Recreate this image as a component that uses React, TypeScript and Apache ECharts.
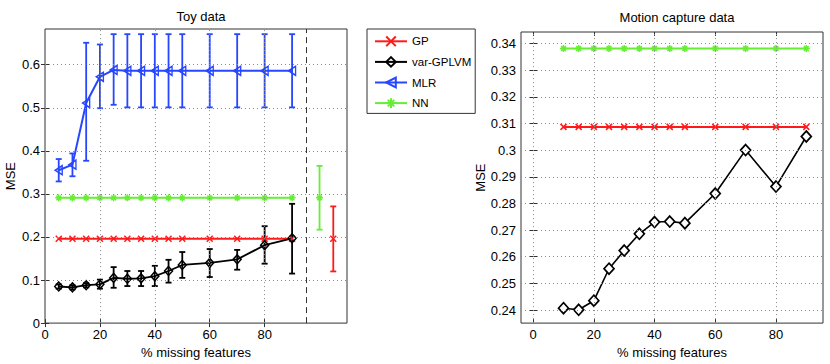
import React, { useEffect, useRef } from "react";
import * as echarts from "echarts";

// ---------- Toy data ----------
const toyX = [5, 10, 15, 20, 25, 30, 35, 40, 45, 50, 60, 70, 80, 90];
const toyGP = [0.196, 0.196, 0.196, 0.196, 0.196, 0.196, 0.196, 0.196, 0.196, 0.196, 0.196, 0.196, 0.196, 0.196];
const toyNN = [0.291, 0.291, 0.291, 0.291, 0.291, 0.291, 0.291, 0.291, 0.291, 0.291, 0.291, 0.291, 0.291, 0.291];
const toyMLR = [0.355, 0.368, 0.511, 0.572, 0.588, 0.586, 0.586, 0.586, 0.586, 0.586, 0.586, 0.586, 0.586, 0.586];
const toyMLRLow = [0.329, 0.341, 0.377, 0.499, 0.507, 0.501, 0.501, 0.501, 0.501, 0.501, 0.501, 0.501, 0.501, 0.501];
const toyMLRHigh = [0.381, 0.394, 0.651, 0.647, 0.671, 0.671, 0.671, 0.671, 0.671, 0.671, 0.671, 0.671, 0.671, 0.671];
const toyVar = [0.085, 0.083, 0.088, 0.09, 0.105, 0.103, 0.104, 0.109, 0.121, 0.135, 0.14, 0.148, 0.181, 0.197];
const toyVarLow = [0.08, 0.078, 0.083, 0.08, 0.082, 0.086, 0.086, 0.086, 0.094, 0.105, 0.107, 0.124, 0.138, 0.115];
const toyVarHigh = [0.09, 0.088, 0.093, 0.101, 0.13, 0.121, 0.121, 0.133, 0.147, 0.165, 0.172, 0.17, 0.225, 0.277];
// stand-alone reference points (right of dashed line)
const toyNNRef = { x: 100, y: 0.291, low: 0.217, high: 0.365 };
const toyGPRef = { x: 105, y: 0.196, low: 0.12, high: 0.271 };
const toyDivider = 95;
const toyXTicks = [0, 20, 40, 60, 80];
const toyYTicks = [0, 0.1, 0.2, 0.3, 0.4, 0.5, 0.6];

// ---------- Motion capture data ----------
const mocapX = [10, 15, 20, 25, 30, 35, 40, 45, 50, 60, 70, 80, 90];
const mocapGP = [0.3087, 0.3087, 0.3087, 0.3087, 0.3087, 0.3087, 0.3087, 0.3087, 0.3087, 0.3087, 0.3087, 0.3087, 0.3087];
const mocapNN = [0.3381, 0.3381, 0.3381, 0.3381, 0.3381, 0.3381, 0.3381, 0.3381, 0.3381, 0.3381, 0.3381, 0.3381, 0.3381];
const mocapVar = [0.2407, 0.2401, 0.2435, 0.2555, 0.2623, 0.2686, 0.273, 0.2732, 0.2726, 0.2837, 0.3, 0.2863, 0.3051];
const mocapXTicks = [0, 20, 40, 60, 80];
const mocapYTicks = [0.24, 0.25, 0.26, 0.27, 0.28, 0.29, 0.3, 0.31, 0.32, 0.33, 0.34];

const legendNames = ["GP", "var-GPLVM", "MLR", "NN"];

const FONT = "'Liberation Sans', Arial, Helvetica, sans-serif";
const RED = "#ff1a1a";
const BLUE = "#2646ff";
const GREEN = "#66ee33";
const BLACK = "#000000";

const CROSS = "path://M0,0L10,10M10,0L0,10";
const STAR = "path://M5,0L5,10M0,5L10,5M1.6,1.6L8.4,8.4M8.4,1.6L1.6,8.4";
const TRI_LEFT = "path://M0,5L9,0L9,10Z";

const fmt = (v: number) => String(parseFloat(Number(v).toFixed(3)));

function lineSeries(name: string, gi: number, xs: number[], ys: number[], color: string, symbol: string, size: any, lw: number, fill = "none", bw = 1.5) {
  return {
    type: "line",
    name,
    xAxisIndex: gi * 2,
    yAxisIndex: gi * 2,
    data: xs.map((x, i) => [x, ys[i]]),
    symbol,
    symbolSize: size,
    showSymbol: true,
    showAllSymbol: true,
    lineStyle: { color, width: lw },
    itemStyle: { color: fill, borderColor: color, borderWidth: bw },
    emphasis: { disabled: true },
    silent: true,
    z: 4,
  };
}

function errorBars(name: string, gi: number, xs: number[], lows: number[], highs: number[], color: string, width: number) {
  return {
    type: "custom",
    name,
    xAxisIndex: gi * 2,
    yAxisIndex: gi * 2,
    silent: true,
    encode: { x: 0, y: [1, 2] },
    data: xs.map((x, i) => [x, lows[i], highs[i]]),
    renderItem: (_p: any, api: any) => {
      const x = api.value(0);
      const p1 = api.coord([x, api.value(1)]);
      const p2 = api.coord([x, api.value(2)]);
      const cap = 3;
      const style = { stroke: color, lineWidth: width, fill: "none" };
      return {
        type: "group",
        children: [
          { type: "line", shape: { x1: p1[0], y1: p1[1], x2: p2[0], y2: p2[1] }, style },
          { type: "line", shape: { x1: p1[0] - cap, y1: p1[1], x2: p1[0] + cap, y2: p1[1] }, style },
          { type: "line", shape: { x1: p2[0] - cap, y1: p2[1], x2: p2[0] + cap, y2: p2[1] }, style },
        ],
      };
    },
    z: 3,
  };
}

function gridLines(gi: number, xs: number[], ys: number[], extra: any[] = []) {
  return {
    type: "line",
    name: "grid" + gi,
    xAxisIndex: gi * 2,
    yAxisIndex: gi * 2,
    data: [],
    silent: true,
    z: 1,
    markLine: {
      silent: true,
      animation: false,
      symbol: ["none", "none"],
      label: { show: false },
      lineStyle: { color: "#8a8a8a", type: [1, 3], width: 1 },
      data: [...xs.map((v) => ({ xAxis: v })), ...ys.map((v) => ({ yAxis: v })), ...extra],
    },
  };
}

const tickStyle = { inside: true, length: 4, lineStyle: { color: "#333", width: 1 } };
const labelStyle = { color: "#000", fontSize: 13, fontFamily: FONT, margin: 5 };
const nameStyle = { color: "#000", fontSize: 13, fontFamily: FONT };

function axesFor(gi: number, xmin: number, xmax: number, xt: number[], ymin: number, ymax: number, yt: number[], yNameGap: number) {
  const xBottom = {
    type: "value", gridIndex: gi, min: xmin, max: xmax, position: "bottom",
    axisLine: { show: false }, splitLine: { show: false },
    axisTick: { ...tickStyle, customValues: xt },
    axisLabel: { ...labelStyle, customValues: xt, formatter: fmt },
    name: "% missing features", nameLocation: "middle", nameGap: 19, nameTextStyle: nameStyle,
  };
  const xTop = {
    type: "value", gridIndex: gi, min: xmin, max: xmax, position: "top",
    axisLine: { show: false }, splitLine: { show: false },
    axisTick: { ...tickStyle, customValues: xt },
    axisLabel: { show: false },
  };
  const yLeft = {
    type: "value", gridIndex: gi, min: ymin, max: ymax, position: "left",
    axisLine: { show: false }, splitLine: { show: false },
    axisTick: { ...tickStyle, customValues: yt },
    axisLabel: { ...labelStyle, customValues: yt, formatter: fmt },
    name: "MSE", nameLocation: "middle", nameGap: yNameGap, nameRotate: 90, nameTextStyle: nameStyle,
  };
  const yRight = {
    type: "value", gridIndex: gi, min: ymin, max: ymax, position: "right",
    axisLine: { show: false }, splitLine: { show: false },
    axisTick: { ...tickStyle, customValues: yt },
    axisLabel: { show: false },
  };
  return { x: [xBottom, xTop], y: [yLeft, yRight] };
}

export default function App() {
  const ref = useRef<HTMLDivElement>(null);
  useEffect(() => {
    document.body.style.margin = "0";
    if (!ref.current) return;
    const chart = echarts.init(ref.current, undefined, { renderer: "svg" });
    const a0 = axesFor(0, 0, 110, toyXTicks, 0, 0.683, toyYTicks, 28);
    const a1 = axesFor(1, -4, 95.5, mocapXTicks, 0.2351, 0.3443, mocapYTicks, 33);
    const option: any = {
      animation: false,
      textStyle: { fontFamily: FONT },
      title: [
        { text: "Toy data", left: 196, top: 5, textAlign: "center", textStyle: { fontSize: 13, fontWeight: "normal", color: "#000", fontFamily: FONT } },
        { text: "Motion capture data", left: 672, top: 6, textAlign: "center", textStyle: { fontSize: 13, fontWeight: "normal", color: "#000", fontFamily: FONT } },
      ],
      legend: {
        data: legendNames,
        orient: "vertical",
        left: 367,
        top: 29,
        padding: [5, 4, 3, 7],
        itemWidth: 32,
        itemHeight: 12,
        itemGap: 6,
        borderColor: "#333",
        borderWidth: 1,
        backgroundColor: "#fff",
        selectedMode: false,
        textStyle: { fontSize: 11.5, color: "#000", fontFamily: FONT },
      },
      grid: [
        { left: 45, top: 29, width: 302, height: 297.5, show: true, borderColor: "#333", borderWidth: 1, backgroundColor: "transparent" },
        { left: 521, top: 32, width: 302, height: 294.5, show: true, borderColor: "#333", borderWidth: 1, backgroundColor: "transparent" },
      ],
      xAxis: [...a0.x, ...a1.x],
      yAxis: [...a0.y, ...a1.y],
      series: [
        gridLines(0, toyXTicks.filter((v) => v > 0), toyYTicks.filter((v) => v > 0), [
          { xAxis: toyDivider, lineStyle: { color: "#333", type: [6, 4], width: 1 } },
        ]),
        gridLines(1, mocapXTicks, mocapYTicks),
        errorBars("MLR err", 0, toyX, toyMLRLow, toyMLRHigh, BLUE, 1.8),
        errorBars("var err", 0, toyX, toyVarLow, toyVarHigh, BLACK, 1.8),
        errorBars("NN ref err", 0, [toyNNRef.x], [toyNNRef.low], [toyNNRef.high], GREEN, 1.8),
        errorBars("GP ref err", 0, [toyGPRef.x], [toyGPRef.low], [toyGPRef.high], RED, 1.8),
        lineSeries("GP", 0, toyX, toyGP, RED, CROSS, 6, 2),
        lineSeries("var-GPLVM", 0, toyX, toyVar, BLACK, "diamond", [8, 9], 1.8),
        lineSeries("MLR", 0, toyX, toyMLR, BLUE, TRI_LEFT, [7, 9], 2),
        lineSeries("NN", 0, toyX, toyNN, GREEN, STAR, 7, 2),
        lineSeries("NN ref", 0, [toyNNRef.x], [toyNNRef.y], GREEN, STAR, 7, 2),
        lineSeries("GP ref", 0, [toyGPRef.x], [toyGPRef.y], RED, CROSS, 6, 2),
        lineSeries("GP", 1, mocapX, mocapGP, RED, CROSS, 6, 2),
        lineSeries("NN", 1, mocapX, mocapNN, GREEN, STAR, 7, 2),
        lineSeries("var-GPLVM", 1, mocapX, mocapVar, BLACK, "diamond", [10, 11], 1.6, "#fff", 1.7),
      ],
    };
    chart.setOption(option);
    return () => chart.dispose();
  }, []);
  return <div ref={ref} style={{ width: 830, height: 364 }} />;
}
